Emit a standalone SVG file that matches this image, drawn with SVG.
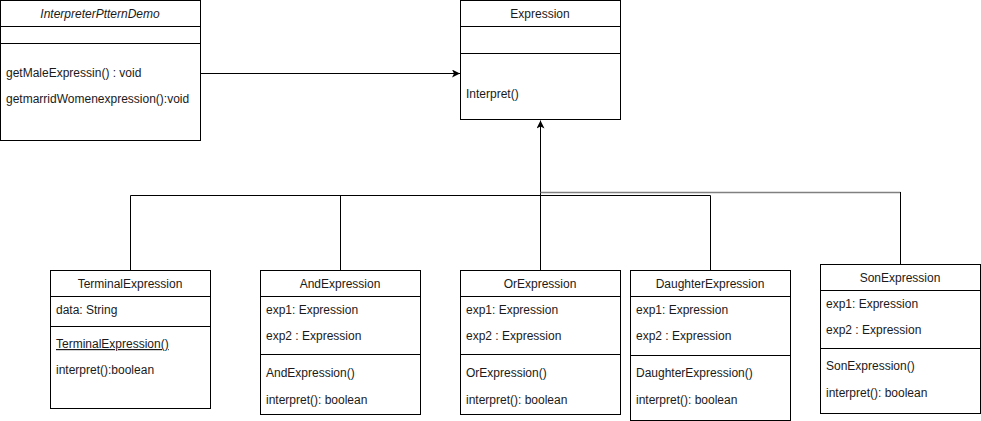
<svg xmlns="http://www.w3.org/2000/svg" width="981" height="421" viewBox="0 0 981 421">
<style>
.box{fill:#fff;stroke:#000;stroke-width:1}
.ln{stroke:#000;stroke-width:1;fill:none}
text{font-family:"Liberation Sans",Arial,Helvetica,sans-serif;font-size:12px;fill:#1a1a1a}
.c{text-anchor:middle}
.conn{stroke:#000;stroke-width:1;fill:none}
.gray{stroke:#808080;stroke-width:1.5;fill:none}
</style>
<defs>
<marker id="arr" viewBox="0 0 10 10" refX="10" refY="5" markerWidth="8" markerHeight="8" markerUnits="userSpaceOnUse" orient="auto">
<path d="M0,0 L10,5 L0,10 L2.5,5 Z" fill="#000"/>
</marker>
</defs>
<rect width="981" height="421" fill="#fff"/>
<g id="connectors">
<line class="conn" x1="200.5" y1="73.5" x2="460" y2="73.5" marker-end="url(#arr)"/>
<line class="conn" x1="540.5" y1="270" x2="540.5" y2="120.5" marker-end="url(#arr)"/>
<polyline class="conn" points="130.5,270 130.5,195.5 710.5,195.5 710.5,270"/>
<line class="conn" x1="340.5" y1="195.5" x2="340.5" y2="270"/>
<polyline class="gray" points="540.5,192.5 900.5,192.5"/>
<line class="conn" x1="900.5" y1="192" x2="900.5" y2="264"/>
</g>
<g id="InterpreterPtternDemo">
<rect class="box" x="0.5" y="0.5" width="200" height="140"/>
<line class="ln" x1="0.5" y1="26.5" x2="200.5" y2="26.5"/>
<line class="ln" x1="0.5" y1="43.5" x2="200.5" y2="43.5"/>
<text class="c" x="100" y="18" font-style="italic">InterpreterPtternDemo</text>
<text x="6" y="77">getMaleExpressin() : void</text>
<text x="6" y="103">getmarridWomenexpression():void</text>
</g>
<g id="Expression">
<rect class="box" x="460.5" y="0.5" width="160" height="119"/>
<line class="ln" x1="460.5" y1="26.5" x2="620.5" y2="26.5"/>
<line class="ln" x1="460.5" y1="53.5" x2="620.5" y2="53.5"/>
<text class="c" x="540" y="18">Expression</text>
<text x="466" y="98">Interpret()</text>
</g>
<g id="TerminalExpression">
<rect class="box" x="50.5" y="270.5" width="160" height="138"/>
<line class="ln" x1="50.5" y1="296.5" x2="210.5" y2="296.5"/>
<line class="ln" x1="50.5" y1="326.5" x2="210.5" y2="326.5"/>
<text class="c" x="130" y="288">TerminalExpression</text>
<text x="56" y="314">data: String</text>
<text x="56" y="348" text-decoration="underline">TerminalExpression()</text>
<text x="56" y="374">interpret():boolean</text>
</g>
<g id="AndExpression">
<rect class="box" x="260.5" y="270.5" width="160" height="144"/>
<line class="ln" x1="260.5" y1="296.5" x2="420.5" y2="296.5"/>
<line class="ln" x1="260.5" y1="354.5" x2="420.5" y2="354.5"/>
<text class="c" x="340" y="288">AndExpression</text>
<text x="266" y="314">exp1: Expression</text>
<text x="266" y="340">exp2 : Expression</text>
<text x="266" y="377">AndExpression()</text>
<text x="266" y="404">interpret(): boolean</text>
</g>
<g id="OrExpression">
<rect class="box" x="460.5" y="270.5" width="160" height="144"/>
<line class="ln" x1="460.5" y1="296.5" x2="620.5" y2="296.5"/>
<line class="ln" x1="460.5" y1="354.5" x2="620.5" y2="354.5"/>
<text class="c" x="540" y="288">OrExpression</text>
<text x="466" y="314">exp1: Expression</text>
<text x="466" y="340">exp2 : Expression</text>
<text x="466" y="377">OrExpression()</text>
<text x="466" y="404">interpret(): boolean</text>
</g>
<g id="DaughterExpression">
<rect class="box" x="630.5" y="270.5" width="160" height="150"/>
<line class="ln" x1="630.5" y1="296.5" x2="790.5" y2="296.5"/>
<line class="ln" x1="630.5" y1="355.5" x2="790.5" y2="355.5"/>
<text class="c" x="710" y="288">DaughterExpression</text>
<text x="636" y="314">exp1: Expression</text>
<text x="636" y="340">exp2 : Expression</text>
<text x="636" y="377">DaughterExpression()</text>
<text x="636" y="404">interpret(): boolean</text>
</g>
<g id="SonExpression">
<rect class="box" x="820.5" y="264.5" width="160" height="149"/>
<line class="ln" x1="820.5" y1="290.5" x2="980.5" y2="290.5"/>
<line class="ln" x1="820.5" y1="348.5" x2="980.5" y2="348.5"/>
<text class="c" x="900" y="282">SonExpression</text>
<text x="826" y="308">exp1: Expression</text>
<text x="826" y="334">exp2 : Expression</text>
<text x="826" y="370">SonExpression()</text>
<text x="826" y="397">interpret(): boolean</text>
</g>
</svg>
